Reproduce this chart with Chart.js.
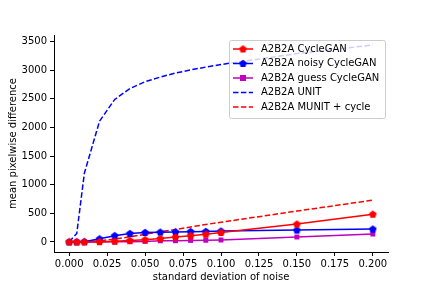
<!DOCTYPE html>
<html>
<head>
<meta charset="utf-8">
<script src="https://cdn.jsdelivr.net/npm/chart.js@4.4.1/dist/chart.umd.min.js"></script>
<style>
  html, body { margin: 0; padding: 0; background: #fff; }
  #wrap { width: 432px; height: 288px; }
</style>
</head>
<body>
<div id="wrap"><canvas id="noiseChart" width="432" height="288"></canvas></div>
<script>
// noise levels and measured differences
const noiseLevels = [0, 0.005, 0.01, 0.02, 0.03, 0.04, 0.05, 0.06, 0.07, 0.08, 0.09, 0.1, 0.15, 0.2];
const cycleGan      = [0, 0, 0, 5, 12, 25, 40, 60, 85, 110, 135, 165, 312, 485];
const noisyCycleGan = [0, 0, 5, 55, 110, 148, 166, 172, 176, 180, 184, 190, 208, 225];
const guessCycleGan = [0, 0, 0, 0, 2, 5, 10, 20, 22, 27, 30, 35, 87, 139];
const unitValues    = [0, 150, 1200, 2110, 2490, 2680, 2800, 2880, 2950, 3005, 3055, 3100, 3290, 3440];
const munitValues   = [0, 0, 5, 20, 50, 90, 135, 178, 218, 262, 305, 345, 540, 730];

const xTicks = [0, 0.025, 0.05, 0.075, 0.1, 0.125, 0.15, 0.175, 0.2];
const yTicks = [0, 500, 1000, 1500, 2000, 2500, 3000, 3500];

const seriesNames = ['A2B2A CycleGAN', 'A2B2A noisy CycleGAN', 'A2B2A guess CycleGAN', 'A2B2A UNIT', 'A2B2A MUNIT + cycle'];

const RED = '#ff0000', BLUE = '#0000ff', MAG = '#bf00bf';

function toPoints(values) {
    return noiseLevels.map((x, i) => ({ x: x, y: values[i] }));
}

function pentagon(color) {
    const c = document.createElement('canvas');
    c.width = 9; c.height = 9;
    const g = c.getContext('2d');
    g.beginPath();
    for (let k = 0; k < 5; k++) {
        const a = -Math.PI / 2 + k * 2 * Math.PI / 5;
        const px = 4.5 + 4 * Math.cos(a), py = 4.8 + 4 * Math.sin(a);
        if (k === 0) g.moveTo(px, py); else g.lineTo(px, py);
    }
    g.closePath();
    g.fillStyle = color;
    g.fill();
    return c;
}

const redPent = pentagon(RED);
const bluePent = pentagon(BLUE);

// legend drawn inside the axes, matplotlib style
const insideLegend = {
    id: 'insideLegend',
    afterDraw(chart) {
        const ctx = chart.ctx;
        const x0 = 229, y0 = 40, w = 156, h = 78;
        ctx.save();
        ctx.fillStyle = 'rgba(255,255,255,0.8)';
        ctx.strokeStyle = '#cccccc';
        ctx.lineWidth = 1;
        ctx.beginPath();
        ctx.roundRect(x0 + 0.5, y0 + 0.5, w, h, 2);
        ctx.fill();
        ctx.stroke();
        ctx.font = '10px "DejaVu Sans"';
        ctx.textBaseline = 'middle';
        chart.data.datasets.forEach((ds, i) => {
            const y = 49 + i * 14.5;
            ctx.strokeStyle = ds.borderColor;
            ctx.lineWidth = 1.5;
            ctx.setLineDash(ds.borderDash || []);
            ctx.beginPath();
            ctx.moveTo(233, y);
            ctx.lineTo(253, y);
            ctx.stroke();
            ctx.setLineDash([]);
            if (ds.pointStyle === 'rect') {
                ctx.fillStyle = ds.pointBackgroundColor;
                ctx.fillRect(240, y - 3, 6, 6);
            } else if (ds.pointStyle && typeof ds.pointStyle !== 'string') {
                ctx.drawImage(ds.pointStyle, 243 - 4.5, y - 4.5);
            }
            ctx.fillStyle = '#000';
            ctx.fillText(ds.label, 261, y);
        });
        ctx.restore();
    }
};

new Chart(document.getElementById('noiseChart'), {
    type: 'line',
    data: {
        datasets: [
            { label: seriesNames[0], data: toPoints(cycleGan), borderColor: RED, backgroundColor: RED,
              borderWidth: 1.5, pointStyle: redPent, pointRadius: 4, pointBackgroundColor: RED },
            { label: seriesNames[1], data: toPoints(noisyCycleGan), borderColor: BLUE, backgroundColor: BLUE,
              borderWidth: 1.5, pointStyle: bluePent, pointRadius: 4, pointBackgroundColor: BLUE },
            { label: seriesNames[2], data: toPoints(guessCycleGan), borderColor: MAG, backgroundColor: MAG,
              borderWidth: 1.5, pointStyle: 'rect', pointRadius: 3.5, pointBorderWidth: 0, pointBackgroundColor: MAG },
            { label: seriesNames[3], data: toPoints(unitValues), borderColor: BLUE,
              borderWidth: 1.5, borderDash: [5.5, 2.4], pointRadius: 0 },
            { label: seriesNames[4], data: toPoints(munitValues), borderColor: RED,
              borderWidth: 1.5, borderDash: [5.5, 2.4], pointRadius: 0 }
        ]
    },
    options: {
        responsive: false,
        animation: false,
        layout: { padding: { left: 0, top: 35, right: 44, bottom: 0 } },
        plugins: {
            legend: { display: false },
            tooltip: { enabled: false }
        },
        scales: {
            x: {
                type: 'linear',
                min: -0.01,
                max: 0.21,
                afterBuildTicks: (scale) => { scale.ticks = xTicks.map(v => ({ value: v })); },
                afterFit: (scale) => { scale.height = 36; },
                ticks: {
                    color: '#000',
                    font: { family: 'DejaVu Sans', size: 10 },
                    padding: 2,
                    maxRotation: 0,
                    callback: (v) => Number(v).toFixed(3)
                },
                grid: { drawOnChartArea: false, drawTicks: true, tickLength: 4, tickColor: '#000' },
                border: { color: '#000', width: 1 },
                title: {
                    display: true,
                    text: 'standard deviation of noise',
                    color: '#000',
                    font: { family: 'DejaVu Sans', size: 10 },
                    padding: { top: 0, bottom: 5 }
                }
            },
            y: {
                min: -175,
                max: 3615,
                afterBuildTicks: (scale) => { scale.ticks = yTicks.map(v => ({ value: v })); },
                afterFit: (scale) => { scale.width = 54; },
                ticks: {
                    color: '#000',
                    font: { family: 'DejaVu Sans', size: 10 },
                    padding: 3,
                    callback: (v) => String(v)
                },
                grid: { drawOnChartArea: false, drawTicks: true, tickLength: 4, tickColor: '#000' },
                border: { color: '#000', width: 1 },
                title: {
                    display: true,
                    text: 'mean pixelwise difference',
                    color: '#000',
                    font: { family: 'DejaVu Sans', size: 10 },
                    padding: { top: 7, bottom: 0 }
                }
            }
        }
    },
    plugins: [insideLegend]
});
</script>
</body>
</html>
